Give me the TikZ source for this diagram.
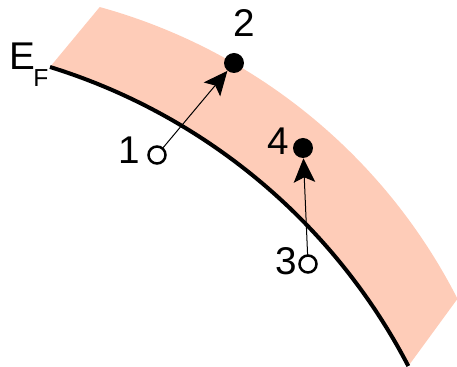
\documentclass[tikz,border=0pt]{standalone}
\usepackage{fontspec}
\setmainfont{Liberation Sans}
\usetikzlibrary{arrows.meta}
\definecolor{bandpink}{RGB}{254,204,184}
\tikzset{>={Stealth[length=4.8mm, width=4.3mm, inset=1mm]}}
\tikzset{
	electron/.style={circle, fill=black, inner sep=0pt, minimum size=4mm},
	hole/.style={circle, draw=black, fill=white, line width=0.05cm, inner sep=0pt, minimum size=3.4mm},
	lbl/.style={inner sep=0pt, font=\fontsize{22}{26}\selectfont},
	excite/.style={->, line width=0.02cm, shorten <=-0.5pt}
}

\begin{document}
\begin{tikzpicture}[x=0.02cm, y=-0.02cm]
	\useasboundingbox (0,0) rectangle (457,367);

	% band above the Fermi level
	\fill[bandpink] (50,67) arc[start angle=-72.8, end angle=-27.5, radius=606] -- (457.5,298.8)
		arc[start angle=-27, end angle=-74.6, radius=572] -- cycle;
	\draw[line width=0.08cm] (50,67) arc[start angle=-72.8, end angle=-27.5, radius=606];

	\node[lbl, anchor=base west] (ef) at (9,70) {E\kern-1pt\raisebox{-9.6pt}{\fontsize{14}{16}\selectfont F}};

	\node[hole] (h1) at (157,155) {};
	\node[electron] (e2) at (234,63) {};
	\node[hole] (h3) at (308,264) {};
	\node[electron] (e4) at (303,148) {};

	\node[lbl] (n1) at (129,150) {1};
	\node[lbl] (n2) at (244,23) {2};
	\node[lbl] (n3) at (286,261) {3};
	\node[lbl] (n4) at (278,141) {4};

	\draw[excite] (h1) -- (e2);
	\draw[excite] (h3) -- (e4);
\end{tikzpicture}
\end{document}
